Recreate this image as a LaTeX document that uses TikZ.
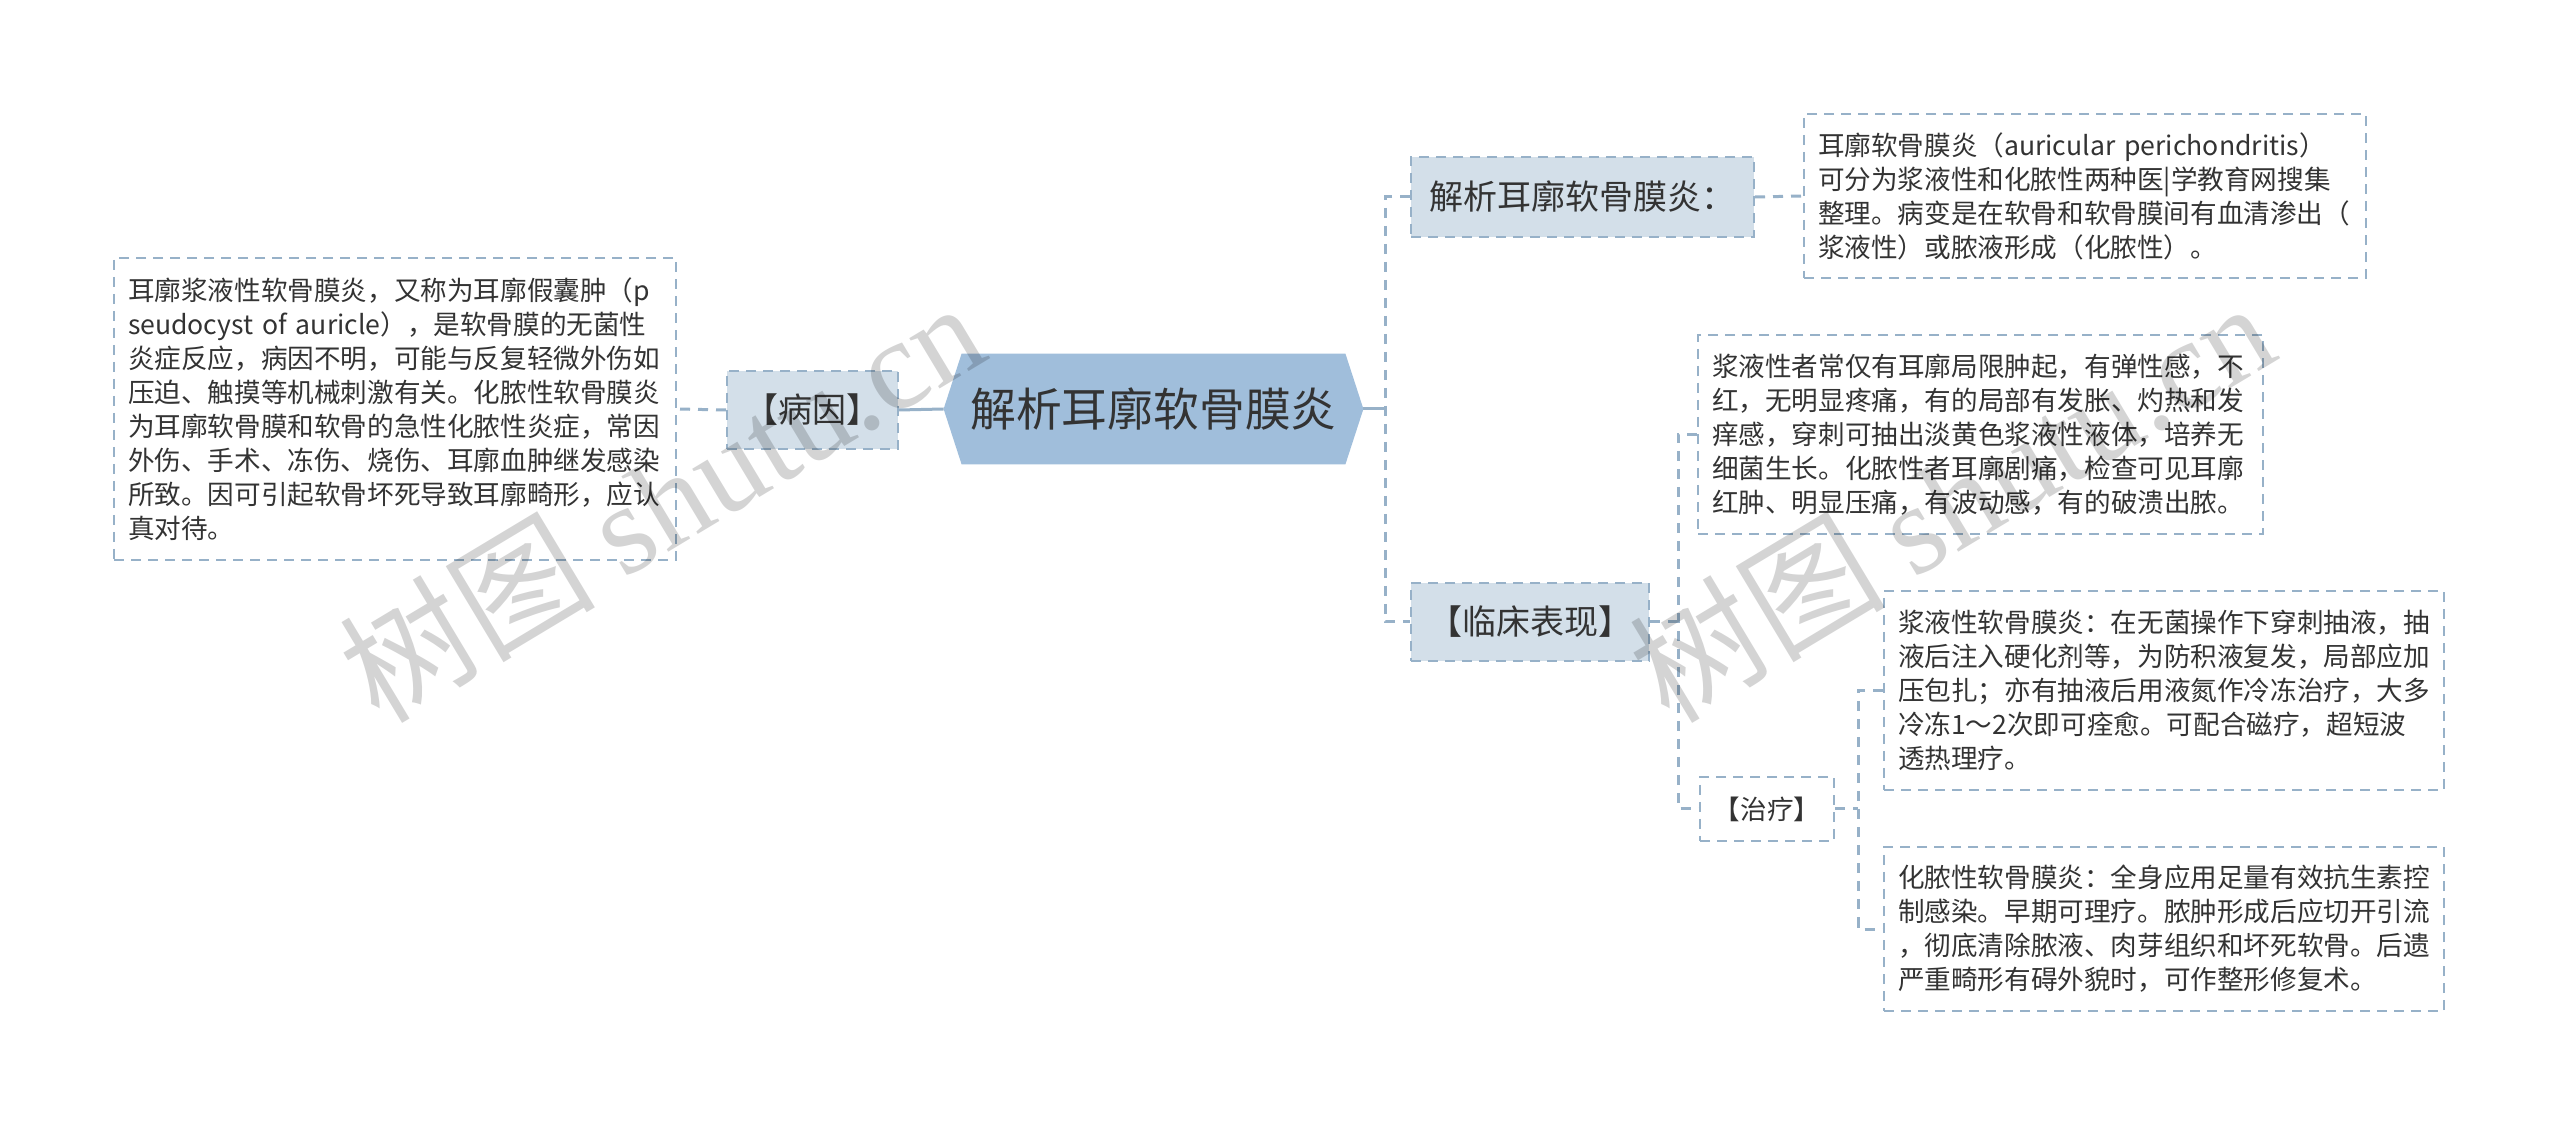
\documentclass[tikz,border=0pt]{standalone}
\usepackage{fontspec}
\setmainfont{Noto Sans CJK SC}
\newfontfamily\wmserif{Liberation Serif}
\usetikzlibrary{backgrounds,calc}
\definecolor{bordc}{HTML}{97B1C8}
\definecolor{lfill}{HTML}{D3DFE9}
\definecolor{cfill}{HTML}{A0BEDB}
\definecolor{txt}{HTML}{333333}
\newcommand\fsS{\fontsize{13.3pt}{17pt}\selectfont}
\newcommand\fsM{\fontsize{17pt}{20pt}\selectfont}
\newcommand\fsL{\fontsize{22.9pt}{26pt}\selectfont}
\newcommand\fsW{\fontsize{64pt}{70pt}\selectfont}
\begin{document}
\begin{tikzpicture}[x=0.5pt,y=-0.5pt,
  dashb/.style={draw=bordc, line width=1pt, dash pattern=on 5pt off 3.5pt},
  txtbox/.style={dashb, fill=white, align=left, inner xsep=7pt, inner ysep=0pt, font=\fsS, text=txt},
  topic/.style={dashb, fill=lfill, font=\fsM, text=txt, inner sep=0pt},
  conn/.style={draw=bordc, line width=1.5pt},
  dconn/.style={conn, dash pattern=on 5pt off 4pt},
  wm/.style={text=black, text opacity=0.17, rotate=31, inner sep=0pt, font=\fsW}
]
\useasboundingbox (0,0) rectangle (2560,1127);

% central topic
\node[font=\fsL, text=txt, minimum width=209.5pt, minimum height=55pt, inner sep=0pt] (c) at (1153.5,409) {解析耳廓软骨膜炎};
\begin{scope}[on background layer]
\fill[white] (0,0) rectangle (2560,1127);
\fill[cfill] (c.west) -- ([xshift=9pt]c.north west) -- ([xshift=-9pt]c.north east) -- (c.east) -- ([xshift=-9pt]c.south east) -- ([xshift=9pt]c.south west) -- cycle;
\end{scope}

% left branch
\node[topic, minimum width=85.5pt, minimum height=39pt] (by) at (812.5,410) {【病因】};
\node[txtbox, text width=267pt, minimum height=151pt] (lb) at (395,409) {耳廓浆液性软骨膜炎，又称为耳廓假囊肿（p\\
seudocyst of auricle），是软骨膜的无菌性\\
炎症反应，病因不明，可能与反复轻微外伤如\\
压迫、触摸等机械刺激有关。化脓性软骨膜炎\\
为耳廓软骨膜和软骨的急性化脓性炎症，常因\\
外伤、手术、冻伤、烧伤、耳廓血肿继发感染\\
所致。因可引起软骨坏死导致耳廓畸形，应认\\
真对待。};

% right branches
\node[topic, minimum width=171.5pt, minimum height=40pt] (jx) at (1582.5,197) {解析耳廓软骨膜炎：};
\node[txtbox, text width=267pt, minimum height=82pt] (tr) at (2085,196) {耳廓软骨膜炎（auricular perichondritis）\\
可分为浆液性和化脓性两种医|学教育网搜集\\
整理。病变是在软骨和软骨膜间有血清渗出（\\
浆液性）或脓液形成（化脓性）。};

\node[topic, minimum width=119pt, minimum height=39pt] (lc) at (1530,622) {【临床表现】};
\node[txtbox, text width=268.5pt, minimum height=99.5pt] (b2) at (1980.5,434.5) {浆液性者常仅有耳廓局限肿起，有弹性感，不\\
红，无明显疼痛，有的局部有发胀、灼热和发\\
痒感，穿刺可抽出淡黄色浆液性液体，培养无\\
细菌生长。化脓性者耳廓剧痛，检查可见耳廓\\
红肿、明显压痛，有波动感，有的破溃出脓。};

\node[dashb, fill=white, font=\fsS, text=txt, minimum width=67pt, minimum height=32pt, inner sep=0pt] (zl) at (1767,809) {【治疗】};
\node[txtbox, text width=266pt, minimum height=99.5pt] (b3) at (2164,690.5) {浆液性软骨膜炎：在无菌操作下穿刺抽液，抽\\
液后注入硬化剂等，为防积液复发，局部应加\\
压包扎；亦有抽液后用液氮作冷冻治疗，大多\\
冷冻1～2次即可痊愈。可配合磁疗，超短波\\
透热理疗。};
\node[txtbox, text width=266pt, minimum height=82pt] (b4) at (2164,929) {化脓性软骨膜炎：全身应用足量有效抗生素控\\
制感染。早期可理疗。脓肿形成后应切开引流\\
，彻底清除脓液、肉芽组织和坏死软骨。后遗\\
严重畸形有碍外貌时，可作整形修复术。};

% junctions
\coordinate (j1) at (1385,409);
\coordinate (j2) at (1678,622);
\coordinate (j3) at (1858,809);

% connectors
\draw[conn] (c.west) -- (by.east);
\draw[dconn] (by.west) -- (lb.east);
\draw[conn] (c.east) -- (j1);
\draw[dconn] (jx.west) -| (j1) |- (lc.west);
\draw[dconn] (jx.east) -- (tr.west);
\draw[dconn] (lc.east) -- (j2);
\draw[dconn] (b2.west) -| (j2) |- (zl.west);
\draw[dconn] (zl.east) -- (j3);
\draw[dconn] (b3.west) -| (j3) |- (b4.west);

% watermarks
\node[wm] (wm1) at (661,500) {树图 {\wmserif shutu.cn}};
\node[wm] (wm2) at (1951,500) {树图 {\wmserif shutu.cn}};
\end{tikzpicture}
\end{document}
